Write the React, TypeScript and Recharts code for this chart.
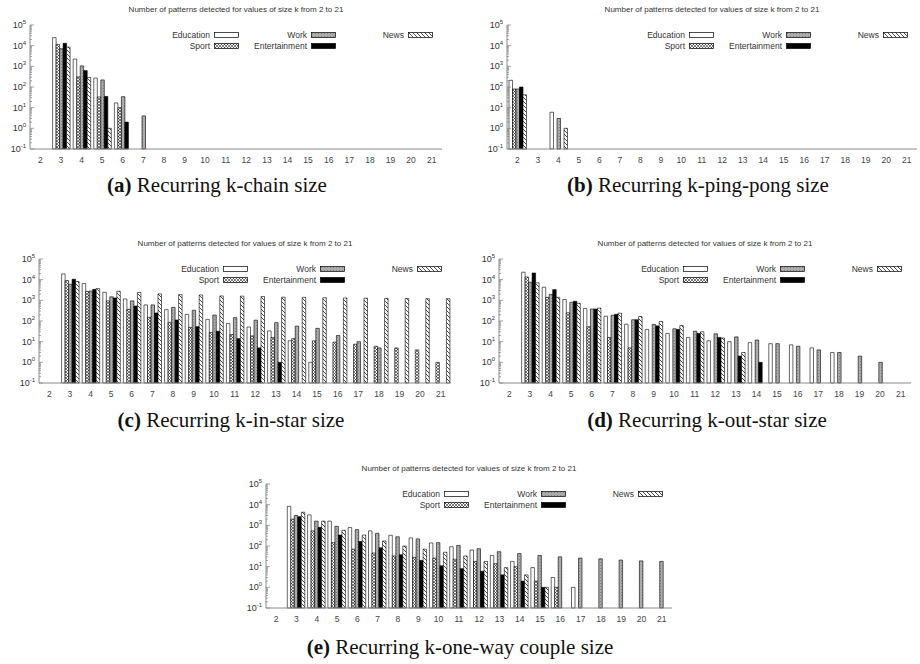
import React from "react";
import { Bar, BarChart, XAxis, YAxis } from "recharts";

const FRAME = "#8a8a8a";
const TEXT = "#333";
const SANS = '"Liberation Sans", Arial, sans-serif';
const SERIF = '"Liberation Serif", "Times New Roman", serif';

const K_VALUES = [2, 3, 4, 5, 6, 7, 8, 9, 10, 11, 12, 13, 14, 15, 16, 17, 18, 19, 20, 21];
const DECADES = [0.1, 1, 10, 100, 1000, 10000, 100000];
const MINOR = [2, 3, 4, 5, 6, 7, 8, 9];
const Y_TICKS = DECADES.flatMap((d, i) =>
  i < DECADES.length - 1 ? [d, ...MINOR.map((m) => Number((d * m).toPrecision(3)))] : [d]
);
const TITLE = "Number of patterns detected for values of size k from 2 to 21";

const _ = null;

// (a) k-chain
const chainEducation = [_, 24500, 2250, 270, 17];
const chainSport = [_, 11500, 310, 33, 10];
const chainWork = [_, 7100, 1050, 220, 34, 4];
const chainEntertainment = [_, 13000, 620, 35, 2];
const chainNews = [_, 8500, 290, 1];

// (b) k-ping-pong
const pingEducation = [210, _, 6];
const pingSport = [80];
const pingWork = [80, _, 3];
const pingEntertainment = [100];
const pingNews = [42, _, 1];

// (c) k-in-star
const inEducation = [_, 19000, 6500, 2450, 1170, 600, 355, 210, 120, 76, 51, 33, 11, 1];
const inSport = [_, 9100, 2700, 940, 370, 150, 86, 49, 28, 22, 19, 16, 14, 11, 9.5, 7.5, 6, 5, 4, 1];
const inWork = [_, 6000, 2800, 1480, 940, 600, 460, 330, 195, 145, 110, 83, 57, 44, 20, 10, 5];
const inEntertainment = [_, 10500, 3400, 1300, 530, 245, 112, 53, 32, 14, 5, 1];
const inNews = [_, 8100, 3700, 2750, 2400, 2050, 1900, 1820, 1630, 1600, 1520, 1420, 1400, 1330, 1300, 1270, 1250, 1230, 1200, 1200];

// (d) k-out-star
const outEducation = [_, 23000, 4300, 1100, 400, 170, 70, 39, 25, 16, 11, 10, 9, 8, 7, 5, 3];
const outSport = [_, 13500, 1400, 250, 53, 16, 5];
const outWork = [_, 7500, 1950, 800, 380, 190, 115, 68, 42, 32, 24, 17, 12, 8, 6, 4, 3, 2, 1];
const outEntertainment = [_, 21000, 3300, 900, 380, 210, 115, 58, 39, 25, 16, 2, 1];
const outNews = [_, 7000, 1400, 720, 420, 240, 165, 95, 60, 30, 15, 3];

// (e) k-one-way couple
const oneEducation = [_, 8300, 3200, 1600, 780, 540, 330, 245, 140, 92, 64, 35, 18, 9, 3, 1];
const oneSport = [_, 2000, 540, 145, 70, 46, 33, 28, 26, 23, 18, 14, 10, 2, 1];
const oneWork = [_, 3000, 1600, 900, 620, 410, 280, 220, 145, 107, 74, 53, 43, 35, 30, 26, 24, 21, 19, 18];
const oneEntertainment = [_, 2600, 800, 340, 165, 82, 38, 20, 11, 8, 6, 4, 2, 1];
const oneNews = [_, 4300, 1600, 580, 340, 175, 100, 70, 50, 33, 18, 9, 4, 1];

const SERIES = [
  { key: "education", name: "Education", fill: "#ffffff" },
  { key: "sport", name: "Sport", fill: "url(#pSport)" },
  { key: "work", name: "Work", fill: "url(#pWork)" },
  { key: "entertainment", name: "Entertainment", fill: "#000000" },
  { key: "news", name: "News", fill: "url(#pNews)" },
];

// legend columns, offset of swatch right edge from plot right edge
const LEGEND_COLS = [
  { right: 203, keys: ["education", "sport"] },
  { right: 106, keys: ["work", "entertainment"] },
  { right: 9, keys: ["news"] },
];

const at = (arr: (number | null)[], i: number) => (i < arr.length ? arr[i] : null);

function buildRows(series: (number | null)[][]) {
  return K_VALUES.map((k, i) => ({
    k,
    education: at(series[0], i),
    sport: at(series[1], i),
    work: at(series[2], i),
    entertainment: at(series[3], i),
    news: at(series[4], i),
  }));
}

const PANELS = [
  {
    letter: "(a)",
    caption: "Recurring k-chain size",
    plot: { x: 30, y: 25, w: 412, h: 124 },
    captionX: 217,
    captionY: 185,
    rows: buildRows([chainEducation, chainSport, chainWork, chainEntertainment, chainNews]),
  },
  {
    letter: "(b)",
    caption: "Recurring k-ping-pong size",
    plot: { x: 507, y: 25, w: 410, h: 124 },
    captionX: 698,
    captionY: 185,
    rows: buildRows([pingEducation, pingSport, pingWork, pingEntertainment, pingNews]),
  },
  {
    letter: "(c)",
    caption: "Recurring k-in-star size",
    plot: { x: 39, y: 259, w: 412, h: 124 },
    captionX: 231,
    captionY: 420,
    rows: buildRows([inEducation, inSport, inWork, inEntertainment, inNews]),
  },
  {
    letter: "(d)",
    caption: "Recurring k-out-star size",
    plot: { x: 499, y: 259, w: 412, h: 124 },
    captionX: 707,
    captionY: 420,
    rows: buildRows([outEducation, outSport, outWork, outEntertainment, outNews]),
  },
  {
    letter: "(e)",
    caption: "Recurring k-one-way couple size",
    plot: { x: 266, y: 484, w: 406, h: 124 },
    captionX: 460,
    captionY: 647,
    rows: buildRows([oneEducation, oneSport, oneWork, oneEntertainment, oneNews]),
  },
];

function isDecade(v: number) {
  const e = Math.log10(v);
  return Math.abs(e - Math.round(e)) < 1e-6;
}

function LeftTick(props: any) {
  const { x, y, payload } = props;
  const v = payload.value as number;
  const major = isDecade(v);
  const exp = Math.round(Math.log10(v));
  return (
    <g>
      <line x1={x} x2={x + (major ? 4 : 2)} y1={y} y2={y} stroke={FRAME} strokeWidth={0.8} />
      {major && (
        <text x={x - 4} y={y + 3} textAnchor="end" fontSize={9} fill={TEXT} fontFamily={SANS}>
          10
          <tspan dy={-4} fontSize={6}>
            {exp}
          </tspan>
        </text>
      )}
    </g>
  );
}

function RightTick(props: any) {
  const { x, y, payload } = props;
  const major = isDecade(payload.value);
  return <line x1={x} x2={x - (major ? 4 : 2)} y1={y} y2={y} stroke={FRAME} strokeWidth={0.8} />;
}

function Swatch({ fill }: { fill: string }) {
  return (
    <svg width={25} height={6} style={{ display: "block" }}>
      <rect x={0.5} y={0.5} width={24} height={5} fill={fill} stroke="#000" strokeWidth={0.7} />
    </svg>
  );
}

function Panel({ panel }: { panel: (typeof PANELS)[number] }) {
  const { plot } = panel;
  const yAxisW = 30;
  const padTop = 10;
  const padRight = 4;
  const xAxisH = 22;
  return (
    <>
      <div
        style={{
          position: "absolute",
          left: plot.x + plot.w / 2 - 200,
          top: plot.y - 20,
          width: 400,
          textAlign: "center",
          fontFamily: SANS,
          fontSize: 8,
          lineHeight: "10px",
          color: TEXT,
        }}
      >
        {TITLE}
      </div>
      <div style={{ position: "absolute", left: plot.x - yAxisW, top: plot.y - padTop }}>
        <BarChart
          width={plot.w + yAxisW + padRight}
          height={plot.h + padTop + xAxisH}
          data={panel.rows}
          margin={{ top: padTop, right: padRight, bottom: 0, left: 0 }}
          barGap={0}
          barSize={3.5}
        >
          <XAxis
            xAxisId="b"
            dataKey="k"
            height={xAxisH}
            interval={0}
            tickSize={0}
            tickMargin={8}
            tickLine={false}
            axisLine={{ stroke: FRAME }}
            tick={{ fontSize: 8.5, fill: "#444", fontFamily: SANS }}
          />
          <XAxis
            xAxisId="t"
            dataKey="k"
            orientation="top"
            height={0}
            tick={false}
            tickLine={false}
            axisLine={{ stroke: FRAME }}
          />
          <YAxis
            yAxisId="l"
            width={yAxisW}
            scale="log"
            domain={[0.1, 100000]}
            ticks={Y_TICKS}
            interval={0}
            tickSize={0}
            tickMargin={0}
            tickLine={false}
            axisLine={{ stroke: FRAME }}
            tick={LeftTick}
          />
          <YAxis
            yAxisId="r"
            orientation="right"
            width={0}
            scale="log"
            domain={[0.1, 100000]}
            ticks={Y_TICKS}
            interval={0}
            tickSize={0}
            tickMargin={0}
            tickLine={false}
            axisLine={{ stroke: FRAME }}
            tick={RightTick}
          />
          {SERIES.map((s) => (
            <Bar
              key={s.key}
              xAxisId="b"
              yAxisId="l"
              dataKey={s.key}
              name={s.name}
              fill={s.fill}
              stroke="#000"
              strokeWidth={0.6}
              barSize={3.5}
              isAnimationActive={false}
            />
          ))}
        </BarChart>
      </div>
      {LEGEND_COLS.map((col) =>
        col.keys.map((key, row) => {
          const s = SERIES.find((x) => x.key === key)!;
          return (
            <div
              key={key}
              style={{
                position: "absolute",
                right: 920 - (plot.x + plot.w - col.right),
                top: plot.y + 10 + row * 10.5 - 5,
                height: 10,
                display: "flex",
                alignItems: "center",
                gap: 4,
                fontFamily: SANS,
                fontSize: 8.5,
                color: TEXT,
                whiteSpace: "nowrap",
              }}
            >
              <span>{s.name}</span>
              <Swatch fill={s.fill} />
            </div>
          );
        })
      )}
      <div
        style={{
          position: "absolute",
          left: panel.captionX - 250,
          width: 500,
          top: panel.captionY - 12,
          textAlign: "center",
          fontFamily: SERIF,
          fontSize: 21,
          lineHeight: "24px",
          color: "#111",
        }}
      >
        <b>{panel.letter}</b> {panel.caption}
      </div>
    </>
  );
}

export default function App() {
  return (
    <div
      style={{
        position: "absolute",
        left: 0,
        top: 0,
        width: 920,
        height: 664,
        background: "#fff",
        overflow: "hidden",
      }}
    >
      <svg width={0} height={0} style={{ position: "absolute" }}>
        <defs>
          <pattern id="pSport" patternUnits="userSpaceOnUse" width={3} height={3}>
            <rect width={3} height={3} fill="#fff" />
            <path d="M0,0 L3,3 M3,0 L0,3" stroke="#222" strokeWidth={0.6} />
          </pattern>
          <pattern id="pWork" patternUnits="userSpaceOnUse" width={3} height={3}>
            <rect width={3} height={3} fill="#ababab" />
            <rect x={1} y={1} width={1} height={1} fill="#808080" />
          </pattern>
          <pattern id="pNews" patternUnits="userSpaceOnUse" width={4} height={4}>
            <rect width={4} height={4} fill="#fff" />
            <path d="M0,0 L4,4 M-1,3 L1,5 M3,-1 L5,1" stroke="#000" strokeWidth={0.7} />
          </pattern>
        </defs>
      </svg>
      {PANELS.map((p) => (
        <Panel key={p.letter} panel={p} />
      ))}
    </div>
  );
}
